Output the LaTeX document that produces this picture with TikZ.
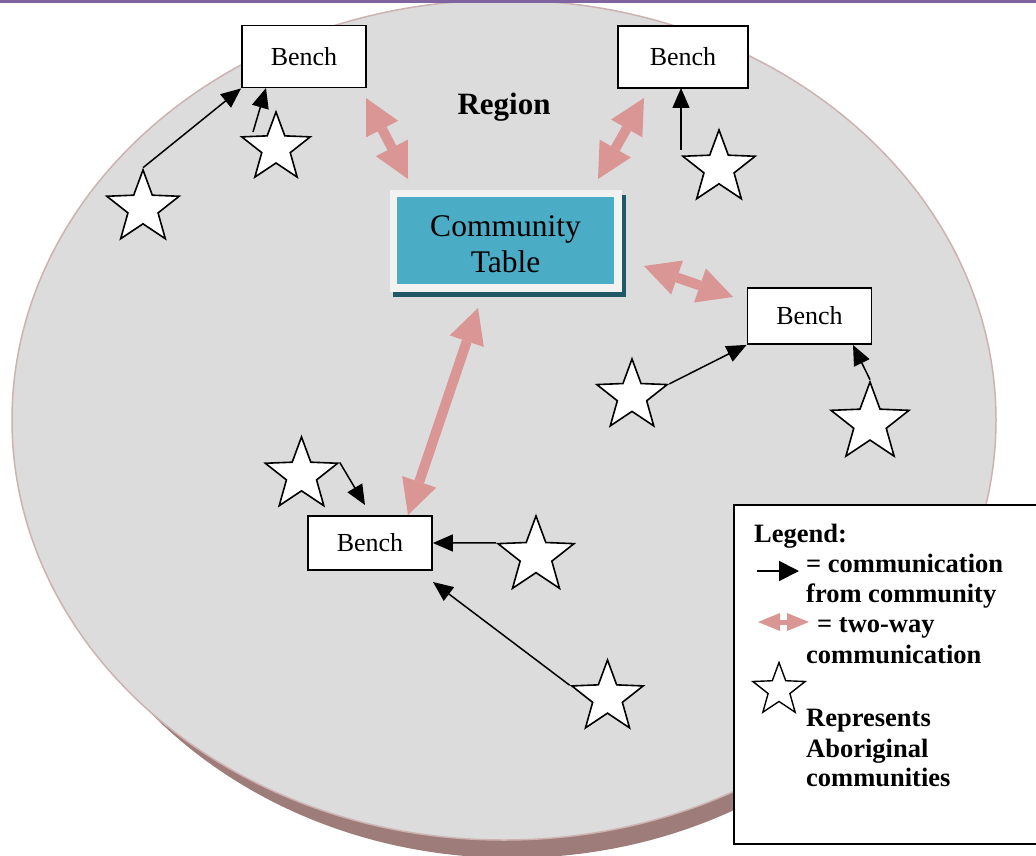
\documentclass[tikz,border=0pt]{standalone}
\usepackage{fontspec}
\setmainfont{Liberation Serif}
\usetikzlibrary{shapes.geometric,arrows.meta}
\definecolor{face}{RGB}{220,220,220}
\definecolor{rim}{RGB}{205,178,178}
\definecolor{sidecol}{RGB}{158,124,122}
\definecolor{pinkarr}{RGB}{217,150,148}
\definecolor{tealcol}{RGB}{75,172,198}
\definecolor{tealdark}{RGB}{33,88,104}
\definecolor{framecol}{RGB}{242,242,242}
\definecolor{bandcol}{RGB}{128,100,162}
\begin{document}
\begin{tikzpicture}[x=1pt,y=-1pt,
 bench/.style={draw,line width=1.8pt,fill=white,minimum width=124pt,minimum height=62pt,inner sep=0pt,font=\fontsize{26}{30}\selectfont},
 comm/.style={star,star points=5,star point ratio=2.4,draw,line width=1.6pt,fill=white,inner sep=0pt},
 flow/.style={line width=1.5pt,-{Triangle[length=20pt,width=17pt]}},
 twoway/.style={draw=pinkarr,line width=10pt,{Triangle[length=35pt,width=36pt,line width=0pt]}-{Triangle[length=35pt,width=36pt,line width=0pt]}},
 legtext/.style={anchor=base west,inner sep=0pt,font=\fontsize{26.5}{30}\selectfont\bfseries}
]
\useasboundingbox (0,0) rectangle (1036,856);
\clip (0,0) rectangle (1036,856);
% disc
\fill[sidecol] (512,438) ellipse [x radius=478, y radius=420];
\filldraw[fill=face, draw=rim, line width=1.5pt] (504,420) ellipse [x radius=492, y radius=420];
\fill[bandcol] (0,0) rectangle (1036,3.5);

% region label
\node[anchor=base,inner sep=0pt,font=\fontsize{31}{36}\selectfont\bfseries] (region) at (504,115) {Region};

% pink two-way arrows
\coordinate (p1a) at (366,98);  \coordinate (p1b) at (408,179);
\coordinate (p2a) at (644,98);  \coordinate (p2b) at (598,179);
\coordinate (p3a) at (644,266); \coordinate (p3b) at (733,297);
\coordinate (p4a) at (478,308); \coordinate (p4b) at (408,515);
\draw[twoway] (p1a) -- (p1b);
\draw[twoway] (p2a) -- (p2b);
\draw[twoway] (p3a) -- (p3b);
\draw[twoway] (p4a) -- (p4b);

% community table
\fill[tealdark] (393,195) rectangle (626,297);
\fill[framecol] (390,190) rectangle (622,292);
\node[fill=tealcol,minimum width=217pt,minimum height=87pt,inner sep=0pt] (table) at (505.5,240.5) {};
\node[align=center,inner sep=0pt,font=\fontsize{31.5}{36}\selectfont] (tabletext) at (505.5,244.5) {Community\\Table};

% benches
\node[bench] (b1) at (304,56.5) {Bench};
\node[bench,minimum width=130pt] (b2) at (683,57) {Bench};
\node[bench,minimum height=56pt] (b3) at (809.5,316) {Bench};
\node[bench,minimum height=54pt] (b4) at (370,543) {Bench};

% stars (communities)
\node[comm,minimum size=76pt] (s1) at (143,208) {};
\node[comm,minimum size=72pt] (s2) at (276,148) {};
\node[comm,minimum size=76pt] (s3) at (719,168) {};
\node[comm,minimum size=74pt] (s4) at (632,396) {};
\node[comm,minimum size=82pt] (s5) at (870,423) {};
\node[comm,minimum size=76pt] (s6) at (301.5,475) {};
\node[comm,minimum size=80pt] (s7) at (536,556) {};
\node[comm,minimum size=75pt] (s8) at (607.5,697.5) {};

% communication from community
\coordinate (a2s) at (253,132); \coordinate (a2e) at (266,88);
\coordinate (a3s) at (681,150); \coordinate (a3e) at (681,88);
\coordinate (a5e) at (853,345);
\coordinate (a6e) at (365,505);
\coordinate (a8e) at (433,582);
\draw[flow] (s1.outer point 1) -- (b1.south west);
\draw[flow] (a2s) -- (a2e);
\draw[flow] (a3s) -- (a3e);
\draw[flow] (s4.outer point 5) -- (b3.south west);
\draw[flow] (s5.outer point 1) -- (a5e);
\draw[flow] (s6.outer point 5) -- (a6e);
\draw[flow] (s7.outer point 2) -- (b4.east);
\draw[flow] (s8.outer point 2) -- (a8e);

% legend
\draw[line width=1.8pt,fill=white] (734,505) rectangle (1045,844);
\node[legtext] (lg) at (754,542) {Legend:};
\node[legtext] (l1) at (806,572) {= communication};
\node[legtext] (l2) at (806,602) {from community};
\node[legtext] (l3) at (817,632) {= two-way};
\node[legtext] (l4) at (806,663) {communication};
\node[legtext] (l5) at (806,726) {Represents};
\node[legtext] (l6) at (806,757) {Aboriginal};
\node[legtext] (l7) at (806,786) {communities};
\coordinate (la1) at (757,571); \coordinate (la2) at (799,571);
\draw[line width=1.8pt,-{Triangle[length=20pt,width=20pt]}] (la1) -- (la2);
\coordinate (lp1) at (758,622); \coordinate (lp2) at (809,622);
\draw[draw=pinkarr,line width=5pt,{Triangle[length=22pt,width=18pt,line width=0pt]}-{Triangle[length=22pt,width=18pt,line width=0pt]}] (lp1) -- (lp2);
\node[comm,minimum size=55pt,line width=1.4pt] (ls) at (779,690) {};
\end{tikzpicture}
\end{document}
